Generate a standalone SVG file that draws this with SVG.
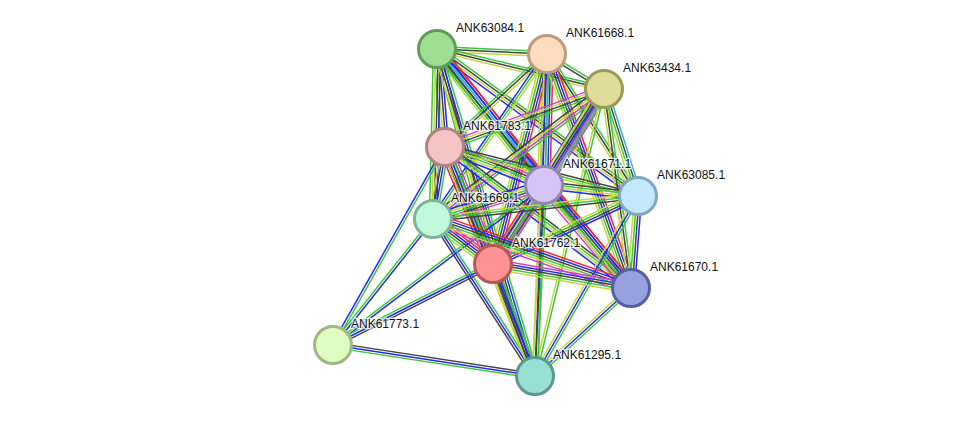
<svg xmlns="http://www.w3.org/2000/svg" width="976" height="422" viewBox="0 0 976 422">
<style>
#edges path{fill:none;stroke-width:1.5;stroke-linecap:butt}
.g{stroke:#3cc83c}.r{stroke:#f02828}.b{stroke:#2828f0}.k{stroke:#444}.m{stroke:#d040d0}.c{stroke:#30b4e0}.y{stroke:#c4d640}
.node circle{stroke-width:3}
.node text{font-family:"Liberation Sans",Arial,sans-serif;font-size:12px;fill:#111;stroke:#fff;stroke-width:2.5;stroke-opacity:0.8;paint-order:stroke}
</style>
<rect width="976" height="422" fill="#fff"/>
<g id="edges">
<g transform="matrix(110 5 -0.045 0.999 437 49)"><path class="g" d="M0-2.4H1"/><path class="k" d="M0 0H1"/><path class="y" d="M0 2.4H1"/></g>
<g transform="matrix(167 40 -0.233 0.973 437 49)"><path class="g" d="M0-2.4H1"/><path class="k" d="M0 0H1"/><path class="y" d="M0 2.4H1"/></g>
<g transform="matrix(8 98 -0.997 0.081 437 49)"><path class="b" d="M0-3.6H1"/><path class="k" d="M0-1.2H1"/><path class="y" d="M0 1.2H1"/><path class="g" d="M0 3.6H1"/></g>
<g transform="matrix(107 136 -0.786 0.618 437 49)"><path class="r" d="M0-6H1"/><path class="b" d="M0-3.6H1"/><path class="c" d="M0-1.2H1"/><path class="k" d="M0 1.2H1"/><path class="g" d="M0 3.6H1"/><path class="y" d="M0 6H1"/></g>
<g transform="matrix(201 147 -0.590 0.807 437 49)"><path class="g" d="M0-3.6H1"/><path class="k" d="M0-1.2H1"/><path class="y" d="M0 1.2H1"/><path class="b" d="M0 3.6H1"/></g>
<g transform="matrix(-4 170 -1 -0.024 437 49)"><path class="b" d="M0-3.6H1"/><path class="k" d="M0-1.2H1"/><path class="y" d="M0 1.2H1"/><path class="g" d="M0 3.6H1"/></g>
<g transform="matrix(56 215 -0.968 0.252 437 49)"><path class="k" d="M0-2.4H1"/><path class="y" d="M0 0H1"/><path class="g" d="M0 2.4H1"/></g>
<g transform="matrix(194 239 -0.776 0.630 437 49)"><path class="r" d="M0-4.8H1"/><path class="b" d="M0-2.4H1"/><path class="c" d="M0 0H1"/><path class="k" d="M0 2.4H1"/><path class="g" d="M0 4.8H1"/></g>
<g transform="matrix(98 327 -0.958 0.287 437 49)"><path class="g" d="M0-3.6H1"/><path class="b" d="M0-1.2H1"/><path class="k" d="M0 1.2H1"/><path class="y" d="M0 3.6H1"/></g>
<g transform="matrix(57 35 -0.523 0.852 547 54)"><path class="g" d="M0-1.2H1"/><path class="k" d="M0 1.2H1"/></g>
<g transform="matrix(-102 93 -0.674 -0.739 547 54)"><path class="y" d="M0-2.4H1"/><path class="k" d="M0 0H1"/><path class="g" d="M0 2.4H1"/></g>
<g transform="matrix(-3 131 -1 -0.023 547 54)"><path class="r" d="M0-6H1"/><path class="b" d="M0-3.6H1"/><path class="c" d="M0-1.2H1"/><path class="k" d="M0 1.2H1"/><path class="g" d="M0 3.6H1"/><path class="y" d="M0 6H1"/></g>
<g transform="matrix(91 142 -0.842 0.539 547 54)"><path class="g" d="M0-2.4H1"/><path class="k" d="M0 0H1"/><path class="y" d="M0 2.4H1"/></g>
<g transform="matrix(-114 165 -0.823 -0.568 547 54)"><path class="y" d="M0-2.4H1"/><path class="g" d="M0 0H1"/><path class="b" d="M0 2.4H1"/></g>
<g transform="matrix(-54 210 -0.969 -0.249 547 54)"><path class="r" d="M0-4.8H1"/><path class="b" d="M0-2.4H1"/><path class="k" d="M0 0H1"/><path class="g" d="M0 2.4H1"/><path class="y" d="M0 4.8H1"/></g>
<g transform="matrix(84 234 -0.941 0.338 547 54)"><path class="r" d="M0-4.8H1"/><path class="b" d="M0-2.4H1"/><path class="k" d="M0 0H1"/><path class="g" d="M0 2.4H1"/><path class="y" d="M0 4.8H1"/></g>
<g transform="matrix(-12 322 -0.999 -0.037 547 54)"><path class="g" d="M0-2.4H1"/><path class="b" d="M0 0H1"/><path class="y" d="M0 2.4H1"/></g>
<g transform="matrix(-159 58 -0.343 -0.940 604 89)"><path class="g" d="M0-3.6H1"/><path class="k" d="M0-1.2H1"/><path class="y" d="M0 1.2H1"/><path class="m" d="M0 3.6H1"/></g>
<g transform="matrix(-60 96 -0.848 -0.530 604 89)"><path class="m" d="M0-6H1"/><path class="c" d="M0-3.6H1"/><path class="k" d="M0-1.2H1"/><path class="g" d="M0 1.2H1"/><path class="y" d="M0 3.6H1"/><path class="b" d="M0 6H1"/></g>
<g transform="matrix(34 107 -0.953 0.303 604 89)"><path class="c" d="M0-3.6H1"/><path class="k" d="M0-1.2H1"/><path class="g" d="M0 1.2H1"/><path class="y" d="M0 3.6H1"/></g>
<g transform="matrix(-171 130 -0.605 -0.796 604 89)"><path class="g" d="M0-3.6H1"/><path class="m" d="M0-1.2H1"/><path class="y" d="M0 1.2H1"/><path class="k" d="M0 3.6H1"/></g>
<g transform="matrix(-111 175 -0.845 -0.536 604 89)"><path class="g" d="M0-4.8H1"/><path class="m" d="M0-2.4H1"/><path class="b" d="M0 0H1"/><path class="k" d="M0 2.4H1"/><path class="y" d="M0 4.8H1"/></g>
<g transform="matrix(27 199 -0.991 0.134 604 89)"><path class="g" d="M0-2.4H1"/><path class="k" d="M0 0H1"/><path class="y" d="M0 2.4H1"/></g>
<g transform="matrix(-69 287 -0.972 -0.234 604 89)"><path class="g" d="M0-1.2H1"/><path class="y" d="M0 1.2H1"/></g>
<g transform="matrix(99 38 -0.358 0.934 445 147)"><path class="m" d="M0-4.8H1"/><path class="k" d="M0-2.4H1"/><path class="g" d="M0 0H1"/><path class="y" d="M0 2.4H1"/><path class="b" d="M0 4.8H1"/></g>
<g transform="matrix(193 49 -0.246 0.969 445 147)"><path class="k" d="M0-2.4H1"/><path class="g" d="M0 0H1"/><path class="y" d="M0 2.4H1"/></g>
<g transform="matrix(-12 72 -0.986 -0.164 445 147)"><path class="g" d="M0-3.6H1"/><path class="b" d="M0-1.2H1"/><path class="k" d="M0 1.2H1"/><path class="y" d="M0 3.6H1"/></g>
<g transform="matrix(48 117 -0.925 0.379 445 147)"><path class="m" d="M0-6H1"/><path class="k" d="M0-3.6H1"/><path class="g" d="M0-1.2H1"/><path class="y" d="M0 1.2H1"/><path class="b" d="M0 3.6H1"/><path class="r" d="M0 6H1"/></g>
<g transform="matrix(186 141 -0.604 0.797 445 147)"><path class="k" d="M0-3.6H1"/><path class="g" d="M0-1.2H1"/><path class="y" d="M0 1.2H1"/><path class="b" d="M0 3.6H1"/></g>
<g transform="matrix(90 229 -0.931 0.366 445 147)"><path class="g" d="M0-3.6H1"/><path class="b" d="M0-1.2H1"/><path class="k" d="M0 1.2H1"/><path class="y" d="M0 3.6H1"/></g>
<g transform="matrix(-112 198 -0.870 -0.492 445 147)"><path class="g" d="M0-1.2H1"/><path class="b" d="M0 1.2H1"/></g>
<g transform="matrix(94 11 -0.116 0.993 544 185)"><path class="k" d="M0-3.6H1"/><path class="g" d="M0-1.2H1"/><path class="y" d="M0 1.2H1"/><path class="b" d="M0 3.6H1"/></g>
<g transform="matrix(-111 34 -0.293 -0.956 544 185)"><path class="m" d="M0-4.8H1"/><path class="k" d="M0-2.4H1"/><path class="g" d="M0 0H1"/><path class="y" d="M0 2.4H1"/><path class="b" d="M0 4.8H1"/></g>
<g transform="matrix(-51 79 -0.840 -0.543 544 185)"><path class="m" d="M0-6H1"/><path class="k" d="M0-3.6H1"/><path class="g" d="M0-1.2H1"/><path class="y" d="M0 1.2H1"/><path class="b" d="M0 3.6H1"/><path class="r" d="M0 6H1"/></g>
<g transform="matrix(87 103 -0.764 0.645 544 185)"><path class="r" d="M0-6H1"/><path class="b" d="M0-3.6H1"/><path class="k" d="M0-1.2H1"/><path class="g" d="M0 1.2H1"/><path class="y" d="M0 3.6H1"/><path class="m" d="M0 6H1"/></g>
<g transform="matrix(-9 191 -0.999 -0.047 544 185)"><path class="g" d="M0-2.4H1"/><path class="k" d="M0 0H1"/><path class="y" d="M0 2.4H1"/></g>
<g transform="matrix(-211 160 -0.604 -0.797 544 185)"><path class="b" d="M0-1.2H1"/><path class="g" d="M0 1.2H1"/></g>
<g transform="matrix(-205 23 -0.111 -0.994 638 196)"><path class="k" d="M0-2.4H1"/><path class="g" d="M0 0H1"/><path class="y" d="M0 2.4H1"/></g>
<g transform="matrix(-145 68 -0.424 -0.905 638 196)"><path class="b" d="M0-3.6H1"/><path class="k" d="M0-1.2H1"/><path class="g" d="M0 1.2H1"/><path class="y" d="M0 3.6H1"/></g>
<g transform="matrix(-7 92 -0.997 -0.076 638 196)"><path class="b" d="M0-3.6H1"/><path class="k" d="M0-1.2H1"/><path class="g" d="M0 1.2H1"/><path class="y" d="M0 3.6H1"/></g>
<g transform="matrix(-103 180 -0.868 -0.497 638 196)"><path class="g" d="M0-2.4H1"/><path class="b" d="M0 0H1"/><path class="y" d="M0 2.4H1"/></g>
<g transform="matrix(60 45 -0.6 0.8 433 219)"><path class="m" d="M0-6H1"/><path class="r" d="M0-3.6H1"/><path class="b" d="M0-1.2H1"/><path class="k" d="M0 1.2H1"/><path class="g" d="M0 3.6H1"/><path class="y" d="M0 6H1"/></g>
<g transform="matrix(198 69 -0.329 0.944 433 219)"><path class="r" d="M0-6H1"/><path class="b" d="M0-3.6H1"/><path class="k" d="M0-1.2H1"/><path class="g" d="M0 1.2H1"/><path class="y" d="M0 3.6H1"/><path class="m" d="M0 6H1"/></g>
<g transform="matrix(102 157 -0.839 0.545 433 219)"><path class="g" d="M0-2.4H1"/><path class="b" d="M0 0H1"/><path class="k" d="M0 2.4H1"/></g>
<g transform="matrix(-100 126 -0.783 -0.622 433 219)"><path class="b" d="M0-1.2H1"/><path class="g" d="M0 1.2H1"/></g>
<g transform="matrix(138 24 -0.171 0.985 493 264)"><path class="m" d="M0-4.8H1"/><path class="b" d="M0-2.4H1"/><path class="k" d="M0 0H1"/><path class="g" d="M0 2.4H1"/><path class="y" d="M0 4.8H1"/></g>
<g transform="matrix(42 112 -0.936 0.351 493 264)"><path class="g" d="M0-3.6H1"/><path class="b" d="M0-1.2H1"/><path class="k" d="M0 1.2H1"/><path class="y" d="M0 3.6H1"/></g>
<g transform="matrix(-160 81 -0.452 -0.892 493 264)"><path class="k" d="M0-2.4H1"/><path class="b" d="M0 0H1"/><path class="g" d="M0 2.4H1"/></g>
<g transform="matrix(-96 88 -0.676 -0.737 631 288)"><path class="g" d="M0-2.4H1"/><path class="b" d="M0 0H1"/><path class="y" d="M0 2.4H1"/></g>
<g transform="matrix(202 31 -0.152 0.988 333 345)"><path class="k" d="M0-2.4H1"/><path class="b" d="M0 0H1"/><path class="g" d="M0 2.4H1"/></g>
</g>
<g id="n63084" class="node"><circle cx="437" cy="49" r="18.5" fill="#9fdf93" stroke="#5f9f55"/><text x="456" y="32">ANK63084.1</text></g>
<g id="n61668" class="node"><circle cx="547" cy="54" r="18.5" fill="#fddcc0" stroke="#bb9c7c"/><text x="566" y="37">ANK61668.1</text></g>
<g id="n63434" class="node"><circle cx="604" cy="89" r="18.5" fill="#dedc98" stroke="#9c9a58"/><text x="623" y="72">ANK63434.1</text></g>
<g id="n61783" class="node"><circle cx="445" cy="147" r="18.5" fill="#f6c4c4" stroke="#b08484"/><text x="463" y="130">ANK61783.1</text></g>
<g id="n61671" class="node"><circle cx="544" cy="185" r="18.5" fill="#d4c4f8" stroke="#9484b4"/><text x="563" y="168">ANK61671.1</text></g>
<g id="n63085" class="node"><circle cx="638" cy="196" r="18.5" fill="#c4e8fc" stroke="#80a8c0"/><text x="657" y="179">ANK63085.1</text></g>
<g id="n61669" class="node"><circle cx="433" cy="219" r="18.5" fill="#c0f8dc" stroke="#80b49a"/><text x="451" y="202">ANK61669.1</text></g>
<g id="n61762" class="node"><circle cx="493" cy="264" r="18.5" fill="#ff9292" stroke="#b45858"/><text x="512" y="247">ANK61762.1</text></g>
<g id="n61670" class="node"><circle cx="631" cy="288" r="18.5" fill="#98a0e0" stroke="#5460a0"/><text x="650" y="271">ANK61670.1</text></g>
<g id="n61773" class="node"><circle cx="333" cy="345" r="18.5" fill="#e0fcc0" stroke="#a0b884"/><text x="351" y="328">ANK61773.1</text></g>
<g id="n61295" class="node"><circle cx="535" cy="376" r="18.5" fill="#98e0d4" stroke="#5a9890"/><text x="553" y="359">ANK61295.1</text></g>
</svg>
